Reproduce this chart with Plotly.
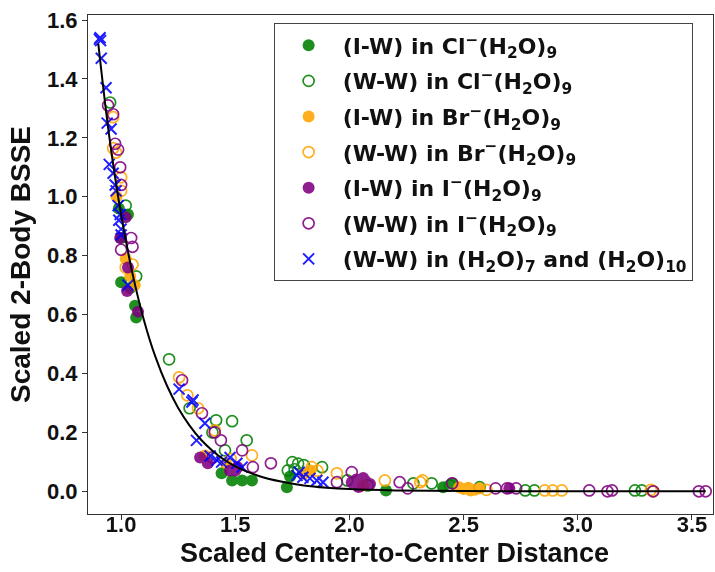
import plotly.graph_objects as go

# ---- data ----
cl_iw_x = [0.99, 1.0, 1.0, 1.03, 1.04, 1.061, 1.066, 1.44, 1.486, 1.53, 1.573, 1.726, 1.74, 2.16, 2.41, 2.45]
cl_iw_y = [0.96, 0.86, 0.71, 0.94, 0.69, 0.63, 0.59, 0.061, 0.037, 0.037, 0.037, 0.014, 0.05, 0.003, 0.014, 0.027]

cl_ww_x = [0.952, 1.02, 1.066, 1.21, 1.30, 1.416, 1.486, 1.55, 1.455, 1.40, 1.75, 1.775, 1.80, 1.88, 1.73,
           1.99, 2.28, 2.36, 2.44, 2.57, 2.77, 2.81, 3.25, 3.28, 2.08, 1.76]
cl_ww_y = [1.32, 0.97, 0.73, 0.448, 0.282, 0.241, 0.238, 0.173, 0.139, 0.20, 0.099, 0.094, 0.089, 0.082, 0.071,
           0.037, 0.027, 0.027, 0.02, 0.014, 0.003, 0.003, 0.003, 0.003, 0.02, 0.075]

br_iw_x = [0.98, 1.02, 1.04, 1.06, 1.367, 1.46, 1.83, 1.80, 2.48, 2.50, 2.52, 2.55, 2.57, 2.53, 2.06]
br_iw_y = [1.0, 0.79, 0.73, 0.70, 0.122, 0.095, 0.071, 0.06, 0.014, 0.008, 0.012, 0.005, 0.01, 0.003, 0.02]

br_ww_x = [0.965, 0.978, 0.965, 1.0, 1.0, 1.02, 1.05, 1.254, 1.29, 1.337, 1.41, 1.573, 1.945, 2.155, 2.31,
           1.835, 1.86, 2.32, 2.855, 2.89, 2.93, 3.33, 3.32, 1.48, 2.6]
br_ww_y = [1.165, 1.15, 1.27, 1.066, 1.02, 0.76, 0.77, 0.387, 0.326, 0.282, 0.207, 0.122, 0.061, 0.037, 0.031,
           0.082, 0.07, 0.037, 0.003, 0.003, 0.003, 0.0, 0.005, 0.11, 0.005]

i_iw_x = [1.02, 0.996, 1.03, 1.026, 1.074, 1.346, 1.38, 1.477, 1.50, 1.51, 2.01, 2.03, 2.05, 2.07, 2.09, 2.04, 2.06, 2.70]
i_iw_y = [0.93, 0.86, 0.76, 0.68, 0.61, 0.115, 0.095, 0.071, 0.071, 0.082, 0.03, 0.04, 0.02, 0.035, 0.025, 0.015, 0.045, 0.01]

i_ww_x = [0.943, 0.965, 0.974, 0.987, 0.996, 1.0, 1.0, 1.044, 1.05, 1.267, 1.354, 1.41, 1.437, 1.53, 1.577,
          1.656, 2.01, 2.22, 2.255, 1.945, 2.64, 2.69, 2.73, 2.45, 3.05, 3.13, 3.15, 3.33, 3.53, 3.56, 1.40]
i_ww_y = [1.31, 1.28, 1.18, 1.16, 1.10, 1.04, 0.82, 0.86, 0.83, 0.377, 0.265, 0.20, 0.173, 0.139, 0.082,
          0.095, 0.065, 0.031, 0.010, 0.031, 0.010, 0.010, 0.010, 0.027, 0.003, 0.0, 0.003, 0.0, 0.0, 0.0, 0.115]

wat_x = [0.908, 0.91, 0.905, 0.913, 0.934, 0.939, 0.956, 0.948, 0.965, 0.974, 0.978, 0.987, 0.996, 1.0, 1.0,
         1.03, 0.99, 1.254, 1.31, 1.315, 1.367, 1.33, 1.42, 1.44, 1.507, 1.53, 1.477, 1.77, 1.796, 1.827,
         1.857, 1.884, 1.78, 1.39]
wat_y = [1.54, 1.53, 1.535, 1.47, 1.37, 1.25, 1.23, 1.11, 1.08, 1.04, 1.02, 0.97, 0.94, 0.89, 0.87,
         0.70, 0.92, 0.347, 0.303, 0.31, 0.231, 0.173, 0.105, 0.099, 0.095, 0.082, 0.115, 0.054, 0.048, 0.044,
         0.037, 0.031, 0.065, 0.12]

fit_x = [0.90, 0.95, 1.00, 1.05, 1.10, 1.15, 1.20, 1.25, 1.30, 1.35, 1.40, 1.45, 1.50, 1.60, 1.70, 1.80,
         1.90, 2.00, 2.20, 2.50, 3.00, 3.56]
fit_y = [1.52, 1.194, 0.940, 0.739, 0.581, 0.457, 0.360, 0.283, 0.223, 0.175, 0.138, 0.108, 0.085, 0.053,
         0.033, 0.020, 0.0125, 0.0077, 0.003, 0.0007, 0.0001, 0.0]

x_title = "Scaled Center-to-Center Distance"
y_title = "Scaled 2-Body BSSE"

series = [
    ("(I-W) in Cl<sup>−</sup>(H<sub>2</sub>O)<sub>9</sub>", cl_iw_x, cl_iw_y, "circle", "green"),
    ("(W-W) in Cl<sup>−</sup>(H<sub>2</sub>O)<sub>9</sub>", cl_ww_x, cl_ww_y, "circle-open", "green"),
    ("(I-W) in Br<sup>−</sup>(H<sub>2</sub>O)<sub>9</sub>", br_iw_x, br_iw_y, "circle", "orange"),
    ("(W-W) in Br<sup>−</sup>(H<sub>2</sub>O)<sub>9</sub>", br_ww_x, br_ww_y, "circle-open", "orange"),
    ("(I-W) in I<sup>−</sup>(H<sub>2</sub>O)<sub>9</sub>", i_iw_x, i_iw_y, "circle", "purple"),
    ("(W-W) in I<sup>−</sup>(H<sub>2</sub>O)<sub>9</sub>", i_ww_x, i_ww_y, "circle-open", "purple"),
    ("(W-W) in (H<sub>2</sub>O)<sub>7</sub> and (H<sub>2</sub>O)<sub>10</sub>", wat_x, wat_y, "x-thin-open", "blue"),
]

fig = go.Figure()
for i, (name, xs, ys, sym, col) in enumerate(series):
    if sym == "circle":
        marker = dict(symbol=sym, size=12, color=col, line=dict(width=0))
    elif sym == "circle-open":
        marker = dict(symbol=sym, size=11, color=col, line=dict(width=1.7, color=col))
    else:
        marker = dict(symbol=sym, size=11, color=col, line=dict(width=2, color=col))
    fig.add_trace(go.Scatter(x=xs, y=ys, mode="markers", name="<b>" + name + "</b>",
                             marker=marker, opacity=0.88, legendgroup=str(i)))

fig.add_trace(go.Scatter(x=fit_x, y=fit_y, mode="lines", line=dict(color="black", width=2, shape="spline"),
                         showlegend=False))

axis_common = dict(showline=True, linecolor="#333333", linewidth=1.2, mirror=True, ticks="outside",
                   ticklen=5, tickcolor="#333333", showgrid=False, zeroline=False,
                   tickfont=dict(family="Liberation Sans", size=22, color="#111111", weight="bold"))

fig.update_layout(
    width=715, height=572,
    margin=dict(l=88, r=2, t=15, b=58),
    plot_bgcolor="white", paper_bgcolor="white",
    xaxis=dict(range=[0.855, 3.592], tickvals=[1.0, 1.5, 2.0, 2.5, 3.0, 3.5],
               ticktext=["1.0", "1.5", "2.0", "2.5", "3.0", "3.5"], ticklabelstandoff=-15,
               **axis_common),
    yaxis=dict(range=[-0.077, 1.617], tickvals=[0.0, 0.2, 0.4, 0.6, 0.8, 1.0, 1.2, 1.4, 1.6],
               ticktext=["0.0", "0.2", "0.4", "0.6", "0.8", "1.0", "1.2", "1.4", "1.6"],
               title=dict(text=y_title, standoff=8,
                          font=dict(family="Liberation Sans", size=28, color="#111111", weight="bold")),
               **axis_common),
    legend=dict(x=0.297, y=0.983, xanchor="left", yanchor="top", bgcolor="white",
                bordercolor="#444444", borderwidth=1, tracegroupgap=4, itemwidth=58,
                font=dict(family="DejaVu Sans", size=22, color="#111111")),
    showlegend=True,
    annotations=[dict(text=x_title, xref="paper", yref="paper", x=0.49, y=-0.078,
                      xanchor="center", yanchor="middle", showarrow=False,
                      font=dict(family="Liberation Sans", size=27, color="#111111", weight="bold"))],
)

fig.write_html("out.html")
